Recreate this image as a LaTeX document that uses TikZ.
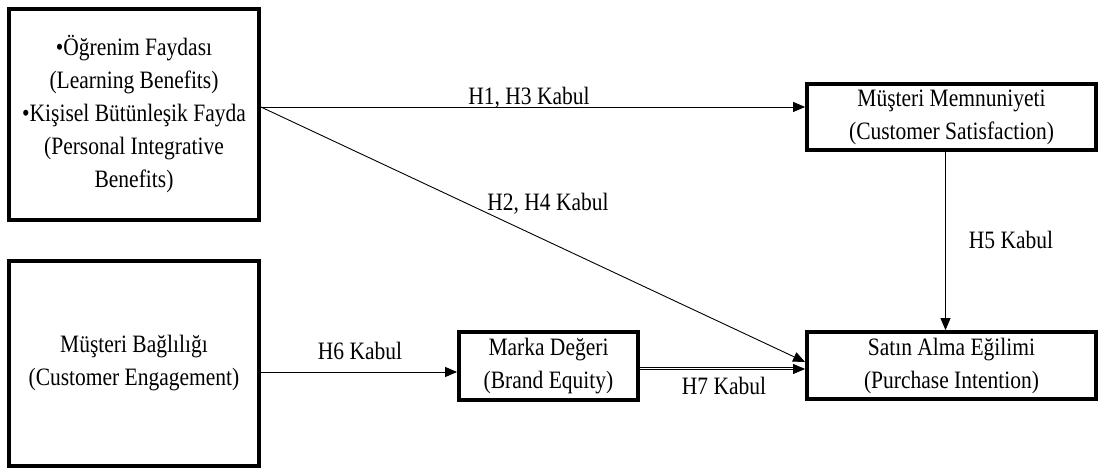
\documentclass[tikz,border=0pt]{standalone}
\usepackage{fontspec}
\setmainfont{Liberation Serif}[FakeStretch=0.86]
\usetikzlibrary{arrows.meta}
\begin{document}
\begin{tikzpicture}[x=1pt,y=1pt,
  box/.style={draw, line width=3.8pt, align=center, inner sep=0pt,
              font=\fontsize{25}{33}\selectfont},
  lbl/.style={font=\fontsize{25}{28}\selectfont, inner sep=0pt},
  arr/.style={-{Triangle[length=12pt,width=10pt]}, line width=0.9pt}]
\useasboundingbox (0,0) rectangle (1101,473);
% constructs
\node[box, minimum width=250pt, minimum height=211pt] (ben) at (134,358.5)
  {•Öğrenim Faydası\\(Learning Benefits)\\•Kişisel Bütünleşik Fayda\\(Personal Integrative\\Benefits)};
\node[box, minimum width=250pt, minimum height=205pt] (eng) at (134,109.5)
  {Müşteri Bağlılığı\\(Customer Engagement)};
\node[box, minimum width=289pt, minimum height=66pt] (sat) at (951.5,356)
  {Müşteri Memnuniyeti\\(Customer Satisfaction)};
\node[box, minimum width=179pt, minimum height=68pt] (brand) at (548.5,107)
  {Marka Değeri\\(Brand Equity)};
\node[box, minimum width=289pt, minimum height=67pt] (pur) at (951.5,107.5)
  {Satın Alma Eğilimi\\(Purchase Intention)};
% connectors
\coordinate (o) at ([yshift=7.5pt]ben.east);
\draw[arr] (o) -- (o -| sat.west);
\draw[arr] (o) -- ([yshift=3.5pt]pur.west);
\draw[arr] ([xshift=-6pt]sat.south) -- ([xshift=-6pt]pur.north);
\coordinate (h6) at ([yshift=-8.5pt]eng.east);
\draw[arr] (h6) -- (h6 -| brand.west);
\coordinate (h7) at ([yshift=-3pt]brand.east);
\draw[line width=0.8pt] ([yshift=1.6pt]h7) -- ([yshift=1.6pt,xshift=-10pt]h7 -| pur.west);
\draw[arr] (h7) -- (h7 -| pur.west);
% labels
\node[lbl] (l13) at (529,375) {H1, H3 Kabul};
\node[lbl] (l24) at (548,269) {H2, H4 Kabul};
\node[lbl] (l5) at (1011,233) {H5 Kabul};
\node[lbl] (l6) at (360,122) {H6 Kabul};
\node[lbl] (l7) at (724,87) {H7 Kabul};
\end{tikzpicture}
\end{document}
